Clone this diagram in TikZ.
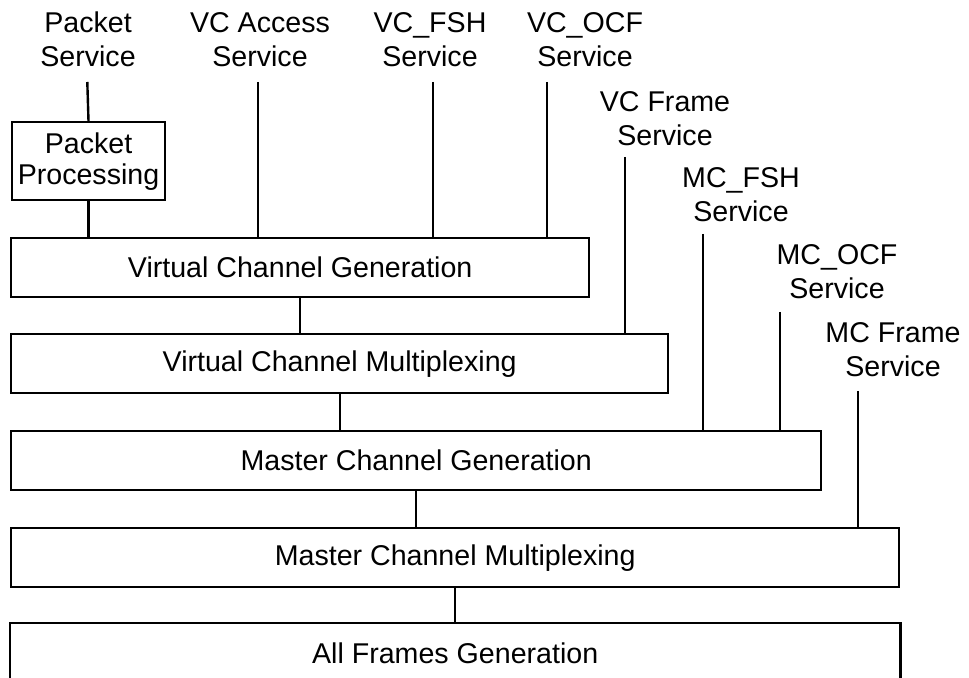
\documentclass[tikz,border=0pt]{standalone}
\usepackage{fontspec}
\setmainfont{Liberation Sans}
\tikzstyle{layer}=[draw, line width=1.2pt, anchor=north west, minimum height=29.5pt, inner sep=0pt, align=center]
\tikzstyle{service}=[anchor=south, inner sep=0pt, align=center]
\tikzstyle{link}=[line width=1.2pt]

\begin{document}
\begin{tikzpicture}[x=0.5pt, y=-0.5pt, font=\fontsize{14.3pt}{17pt}\selectfont]

\useasboundingbox (0, 0) rectangle (969, 678);

\node [layer, minimum width=76.6pt, minimum height=39pt, font=\fontsize{14.3pt}{15.5pt}\selectfont] (PP) at (10.7, 121) {Packet\\Processing};
\node [layer, minimum width=289pt] (VCG) at (10, 237) {Virtual Channel Generation};
\node [layer, minimum width=328.5pt] (VCM) at (10, 333) {Virtual Channel Multiplexing};
\node [layer, minimum width=405pt] (MCG) at (10, 430) {Master Channel Generation};
\node [layer, minimum width=444pt] (MCM) at (10, 527) {Master Channel Multiplexing};
\node [layer, draw=none, minimum width=444pt] (AFG) at (10, 623) {All Frames Generation};
\draw [link] (AFG.south west) -- (AFG.north west) -- (AFG.north east) -- (AFG.south east);

\node [service] (psL) at (88, 67) {Packet\\Service};
\node [service] (vcaL) at (260, 67) {VC Access\\Service};
\node [service] (vcfshL) at (430, 67) {VC\_FSH\\Service};
\node [service] (vcocfL) at (585, 67) {VC\_OCF\\Service};
\node [service] (vcfL) at (665, 146) {VC Frame\\Service};
\node [service] (mcfshL) at (741, 222) {MC\_FSH\\Service};
\node [service] (mcocfL) at (837, 299) {MC\_OCF\\Service};
\node [service] (mcfL) at (893, 377) {MC Frame\\Service};

\coordinate (ps) at (87.3, 82);
\coordinate (vca) at (258, 82);
\coordinate (vcfsh) at (433, 82);
\coordinate (vcocf) at (547, 82);
\coordinate (vcf) at (625, 157);
\coordinate (mcfsh) at (703, 234);
\coordinate (mcocf) at (780, 312);
\coordinate (mcf) at (858, 391);

\draw [link] (ps) -- (PP.north);
\draw [link] (PP.south) -- (PP.south |- VCG.north);
\draw [link] (vca) -- (vca |- VCG.north);
\draw [link] (vcfsh) -- (vcfsh |- VCG.north);
\draw [link] (vcocf) -- (vcocf |- VCG.north);
\draw [link] (vcf) -- (vcf |- VCM.north);
\draw [link] (mcfsh) -- (mcfsh |- MCG.north);
\draw [link] (mcocf) -- (mcocf |- MCG.north);
\draw [link] (mcf) -- (mcf |- MCM.north);

\draw [link] (VCG.south) -- (VCG.south |- VCM.north);
\draw [link] (VCM.south) -- (VCM.south |- MCG.north);
\draw [link] (MCG.south) -- (MCG.south |- MCM.north);
\draw [link] (MCM.south) -- (MCM.south |- AFG.north);

\end{tikzpicture}
\end{document}
